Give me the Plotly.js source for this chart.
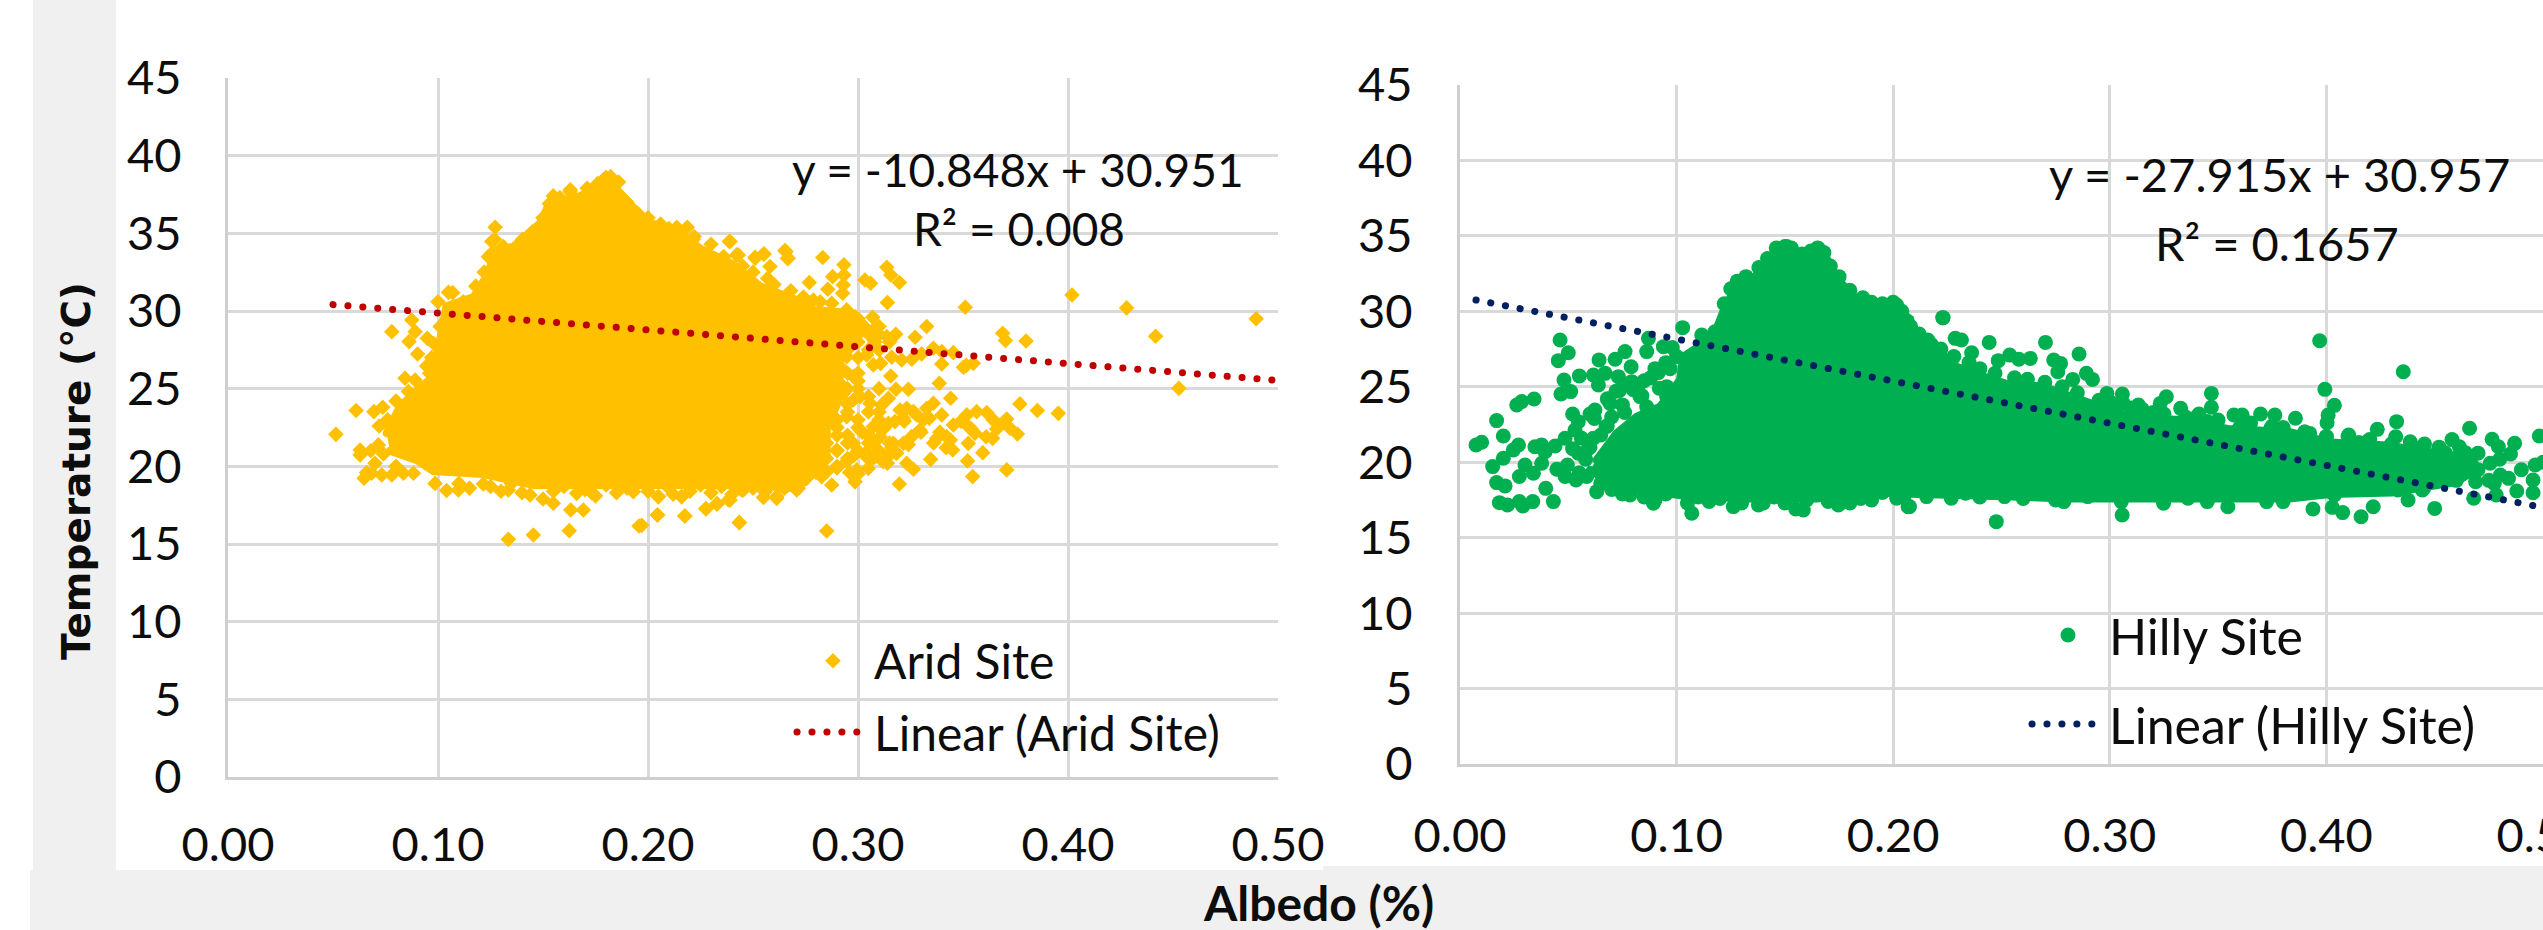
<!DOCTYPE html>
<html>
<head>
<meta charset="utf-8">
<script src="https://cdn.plot.ly/plotly-3.0.1.min.js"></script>
<style>
html,body{margin:0;padding:0;background:#fff;overflow:hidden}
#chart{width:2543px;height:930px}
.js-line{stroke-linecap:round}
</style>
</head>
<body>
<div id="chart"></div>
<script>
// Arid site: solid body of the cloud (outline)
const aridBodyX=[.0756,.0819,.0978,.1009,.104,.117,.123,.128,.136,.1486,.1533,.166,.182,.188,.1994,.2136,.225,.2406,.2533,.2708,.2788,.2978,.2995,.291,.2914,.2851,.285,.275,.265,.2565,.209,.177,.1454,.1216,.0978,.09,.0771];
const aridBodyY=[22.13,23.85,25.8,28.35,30.3,30.9,32.2,33.9,34.15,35.65,37.0,37.3,38.3,37.4,35.7,35.2,34.0,33.0,31.6,30.7,30.07,29.85,29.1,26.7,24.5,22.36,20.5,19.0,18.5,18.8,18.8,18.8,18.8,19.5,19.7,20.4,21.0];
// Arid site: individually readable points
const aridX=[.2387,.2422,.251,.2552,.2652,.2668,.2832,.2933,.2933,.2879,.2768,.2856,.293,.2927,.3033,.306,.3137,.3156,.3197,.314,.3511,.4019,.307,.3327,.3272,.3689,.3702,.38,.3137,.3073,.2994,.2946,.2875,.2787,.3041,.3073,.3108,.316,.3208,.3256,.3303,.3359,.3399,.3454,.3399,.3502,.3549,.3156,.3387,.324,.3441,.3771,.3854,.3954,.3181,.3145,.3113,.3057,.301,.2978,.293,.2914,.293,.2978,.2946,.2867,.32,.3232,.3264,.3216,.3176,.3145,.3327,.3359,.3399,.3311,.3295,.3255,.3375,.3422,.3454,.3518,.3565,.3613,.3644,.3668,.3708,.3724,.3759,.3525,.3557,.3525,.3641,.3594,.3451,.3522,.3346,.3546,.3708,.3264,.3232,.3197,.3137,.3184,.3216,.3168,.3073,.3105,.3049,.3041,.2994,.2986,.2946,.2875,.2827,.2851,.2835,.2899,.2978,.301,.2946,.3073,.2851,.2435,.2276,.2176,.2045,.2327,.2391,.2613,.2716,.2557,.2446,.216,.2049,.197,
.0514,.061,.0695,.0737,.0629,.0629,.0716,.0648,.0684,.0732,.078,.0835,.0883,.078,.0875,.0891,.0862,.0949,.0903,.0946,.0843,.0891,.0859,.107,.1121,.12,.1272,.1256,.1311,.1256,.1403,.1549,.1629,.166,.1787,.1822,.1843,.2137,.2187,.2216,.2391,.243,.251,.2552,.2657,.2664,.2581,.1335,.1454,.1625,.1957,.2175,.2045,.2435,.2276,.1632,.1692,.1549,.1732,.1438,.1335,.1216,.1097,.1041,.0986,.166,.193,.205,.216,.2383,.233,.2613,.2557,.2454,.2708,.4279,.4417,.4528,.4896,.3516];
const aridY=[34.47,33.61,33.4,33.68,33.89,33.4,33.44,32.97,32.32,32.21,31.83,31.4,31.68,31.14,32.0,31.79,32.82,32.32,31.83,30.54,30.24,31.03,29.6,29.0,28.31,28.57,28.1,28.07,28.35,28.78,29.0,30.07,30.5,30.7,27.17,26.53,26.63,27.02,26.85,26.89,27.24,27.6,27.39,27.32,26.59,26.38,26.63,25.82,25.35,24.96,24.38,24.02,23.59,23.41,24.96,24.38,23.95,24.06,24.49,25.78,26.21,25.35,24.7,24.27,27.06,26.96,23.63,23.74,23.52,23.09,22.88,22.77,23.74,24.06,23.31,22.99,22.34,21.91,21.8,21.91,22.66,23.31,23.52,23.46,22.99,22.66,23.05,22.45,22.08,22.56,22.13,21.48,21.8,20.88,21.05,20.35,20.45,19.34,19.77,19.81,20.2,18.86,20.56,20.84,21.48,21.48,21.48,21.91,19.87,20.62,19.77,19.0,20.3,18.8,19.34,19.66,20.73,21.05,21.48,22.34,23.2,22.56,15.84,16.37,17.28,16.8,16.87,17.58,17.83,18.05,18.59,18.37,18.48,18.05,18.05,16.2,
22.06,23.59,23.52,23.8,21.05,20.73,21.38,19.23,19.55,19.44,19.44,19.55,19.55,28.67,29.42,28.67,28.03,28.24,27.23,26.46,25.67,25.56,24.81,31.18,30.5,31.46,35.39,34.47,34.15,33.72,34.62,37.41,37.69,37.15,38.44,38.65,37.58,35.39,35.39,34.62,34.47,33.61,33.46,33.65,33.82,33.39,32.86,15.3,15.58,15.86,16.16,16.8,16.87,16.39,17.25,17.19,17.19,17.62,18.3,18.16,18.48,18.86,18.48,18.44,18.9,18.26,18.37,18.05,18.05,17.83,17.58,17.94,18.37,18.48,18.48,30.2,28.37,25.02,29.5,26.5];
// Arid site: the crowded fringe of the cloud
const aridFringeX=[.1,.105,.112,.118,.122,.124,.127,.131,.134,.14,.145,.15,.153,.158,.163,.171,.176,.18,.186,.19,.195,.2,.206,.21,.222,.23,.236,.245,.25,.257,.26,.268,.274,.282,
.11,.115,.125,.13,.135,.14,.15,.155,.16,.17,.175,.18,.185,.19,.195,.2,.21,.212,.22,.225,.23,.235,.24,.25,.255,.265,.275,.28,
.066,.07,.074,.072,.076,.08,.083,.088,.092,.096,.097,.098,.101,.068,.08,.085,
.285,.29,.295,.30,.282,.288,.292,.303,.31,.285,.295,.3,.305,.31,.318,.28,.29,.3,.308,.315,.285,.295,.305,.31,.28,.29,.3,.275,.285,.29,.28,.295,.30,.285,.29,.3,.28,.295,.30,.31,.29,.305,.285,.295,.285,.295,.305,.31,.29,.30,.31,.29,.30,.31,.29,.295,.305,.285,.295,.305,.315,.28,.29,.30,.31,.285,.295,.305,.28,.29,
.302,.306,.312,.316,.322,.328,.334,.339,.344,.349,.354,.361,.366,.304,.312,.318,.324,.33,.336,.342,.308,.296,.3,.29,.298,.306,.314];
const aridFringeY=[30.6,31.2,30.6,31.6,32.5,33.5,34.6,33,33.5,34.2,35.1,36,36.9,37.3,37.8,37.9,38.2,38.6,38.3,37,36.3,36,35.6,35.3,34.8,34.3,33.5,32.9,32.5,32.1,31.7,31.3,30.9,30.6,
18.9,18.6,18.7,18.4,18.9,18.3,17.9,18.4,18.7,18.5,18.1,18.8,18.3,18.6,18.9,18.4,18.6,18.2,18.4,18.8,18.3,18.7,18.2,18.6,18.0,18.6,19.2,19.6,
19.6,20.2,20.8,22.6,23,24.2,22.8,24.4,25,26,27,27.9,29,21,20,21,
29.5,29.5,29.5,29.5,29,29,29,29,29,28.5,28.5,28.5,28.5,28.5,28.5,28,28,28,28,28,27.5,27.5,27.5,27.5,27,27,27,26.5,26.5,26.5,26,26,26,25.5,25.5,25.5,25,25,25,25,24.5,24.5,24,24,23.5,23.5,23.5,23.5,23,23,23,22.5,22.5,22.5,22,22,22,21.5,21.5,21.5,21.5,21,21,21,21,20.5,20.5,20.5,20,20,
22.2,21.8,22.4,21.2,22.9,23.3,23.1,22.2,21.7,22.9,22.4,21.9,22.4,20.9,20.3,20.9,21.4,22.2,21.5,21.2,20.6,19.6,19.5,19.9,20.7,20.4,20.2];
const aridTrendX=[.05,.5];
const aridTrendY=[30.41,25.53];

// Hilly site: solid body of the cloud
const hillyBodyX=[.0631,.0723,.0816,.0924,.1016,.1031,.117,.1216,.1262,.137,.147,.1555,.1616,.1693,.1739,.1816,.1893,.2001,.2078,.2093,.2185,.2262,.2391,.2523,.2693,.2901,.3091,.3318,.3545,.3829,.4018,.4302,.44,.46,.47,.46,.4302,.4018,.3829,.3545,.3166,.2788,.2409,.222,.2107,.2001,.1647,.1339,.1031,.08,.0693,.06];
const hillyBodyY=[20.15,21.92,23.02,23.68,25.45,27.0,28.3,30.0,31.3,32.4,33.8,33.8,33.5,33.5,32.2,31.0,30.3,30.3,29.5,28.7,28.0,26.5,25.8,25.2,25.0,23.9,23.0,22.8,22.2,22.0,21.3,21.1,20.8,20.4,19.6,18.7,18.0,17.9,17.6,17.6,17.6,17.6,17.8,17.8,17.9,18.0,17.6,17.6,17.8,18.2,18.6,19.5];
// Hilly site: individually readable points
const hillyX=[.0074,.01,.0169,.02,.0262,.0285,.0342,.027,.0246,.02,.0151,.0169,.0208,.0182,.0219,.0274,.029,.0336,.0396,.0431,.0274,.03,.0339,.0377,.0393,.0346,.0377,.0439,.0485,.0531,.0546,.0462,.05,.0454,.048,.0466,.0511,.0551,.0616,.067,.0639,.0642,.0716,.0762,.079,.0731,.0793,.087,.0862,.0939,.1,.0916,.0954,.0954,.0736,.0693,.0623,.0831,.0862,.0674,.0616,.0546,.0593,.0447,.0496,.0485,.0536,.0631,.0585,.0785,.0893,.107,.1585,.2075,.1028,.1116,.1177,.1508,.1654,.2016,.2229,.1262,.1378,.1747,.2016,
.223,.2286,.2315,.2443,.2703,.2858,.2362,.2485,.2538,.258,.2633,.2741,.2773,.276,.2892,.292,.2829,.2987,.3058,.3062,.3132,.3261,.3233,.3327,.3469,.3469,.3412,.3573,.3611,.3696,.3762,.3857,.3743,.362,.3969,.3993,.4037,.4008,.4003,.4355,.4324,.4235,.4661,.3923,.4103,.3999,.4188,.432,.4387,.4453,.4548,.4614,.4642,.4765,.4794,.4869,.485,.4983,.4964,.4756,.4671,.4604,.4567,.4803,.4841,.4689,.4775,.4954,.4879,.4954,.4784,.468,.45,.4216,.416,.4075,.4027,.3938,.4037,.4377,.433,.4443,.3545,.345,.3361,.3248,.3053,.3057,.2971,.2898,.2788,.2684,.257,.2514,.2476,.2334,.2268,.2154,.2069,.38,.3724];
const hillyY=[21.14,21.32,22.76,21.74,23.79,24.02,24.19,21.14,20.81,20.26,19.71,18.65,18.43,17.32,17.17,17.39,17.1,17.39,18.27,17.39,19.05,19.82,19.27,19.93,20.7,21.03,21.14,21.08,21.59,22.14,22.69,28.1,27.26,26.73,25.45,24.52,24.68,25.72,25.78,25.89,25.12,26.78,26.82,27.33,26.33,25.67,25.34,28.21,27.33,27.66,27.0,25.94,25.01,24.35,24.75,23.9,23.46,24.35,23.68,22.36,21.59,20.59,20.92,19.53,19.82,19.05,18.82,18.05,19.05,17.83,17.28,16.62,16.84,17.06,28.92,28.43,28.65,34.29,34.18,30.42,29.58,17.06,17.17,17.17,17.61,
29.58,28.21,28.1,27.94,27.94,27.17,27.26,26.73,27.1,26.82,26.88,26.77,26.55,26.0,25.89,25.49,25.49,24.56,24.52,23.9,23.79,24.34,23.9,23.57,24.56,23.64,23.2,23.13,23.13,23.2,23.13,22.91,22.25,22.69,28.05,24.83,23.77,23.13,22.62,26.0,22.69,22.18,22.25,21.91,21.8,21.69,21.36,21.69,21.36,21.21,20.63,21.03,20.63,21.52,21.03,21.25,20.54,21.74,19.82,19.93,19.82,19.59,19.37,19.15,18.93,18.71,18.6,18.82,18.09,17.98,17.83,17.61,16.94,17.05,16.39,16.66,17.01,16.9,17.83,17.5,18.16,18.16,17.05,17.39,17.61,17.28,17.39,16.5,17.94,17.72,17.39,17.94,18.16,17.72,16.06,17.94,17.61,17.72,17.05,17.39,17.39];
// Hilly site: the crowded fringe of the cloud
const hillyFringeX=[.065,.07,.075,.085,.09,.095,.105,.11,.115,.12,.13,.14,.145,.15,.155,.16,.17,.18,.185,.19,.195,.205,.215,.24,.245,.26,.275,
.055,.06,.065,.07,.075,.08,.085,.09,.095,.098,.066,.073,.058,
.45,.455,.46,.465,.47,.475,.45,.46,.445,.452,.458,.47,.48,.49,.5,
.3,.31,.32,.34,.35,.365,.38,.39,.41,.42,.44,
.122,.125,.128,.132,.138,.142,.146,.15,.153,.158,.162,.165,.168,.171,.175,.18,.186,.19,.195,.2,.204,.208,.212,.216,.222,.228,.235,.24,.247,.256,.262,.27,.278,.285,.295,.302,.315,.325,.335,.345,.36,.375,.39,.4,.415,.43,.44,
.052,.056,.062,.068,.072,.078,.082,.088,.068,.076,.084,.092,.097,.06,.052];
const hillyFringeY=[18.6,18.2,17.9,17.7,17.5,17.9,17.3,17.7,17.4,17.6,17.3,17.3,17.7,17.3,16.9,17.5,17.4,17.3,17.6,17.5,18,17.7,18,17.7,18,17.6,17.5,
19.3,21,21.8,23,23.8,24.8,25.4,26.2,26.6,27.6,19.5,19.4,20.2,
20.5,19.8,20.3,20,19.5,18.8,19,18.8,18.3,21,21.5,20.6,20.2,19.5,20,
24,23.6,23.3,23,22.8,22.6,22.3,22,21.7,21.5,21,
30.5,31.5,32,32.3,32.9,33.5,34.2,34.3,34.2,33.8,34,34.2,33.9,33,32.3,31.4,30.9,30.6,30.5,30.6,30,29,28.5,28.1,27.5,27,26.6,26.2,25.9,25.6,25.5,25.3,25,24.6,24.1,23.8,23.5,23.2,23,22.7,22.3,22.4,22,21.7,21.3,21.2,20.9,
20.9,21.6,22.9,24.2,24.7,25.2,24.9,25.6,22.4,23.3,24.4,24.9,26.2,23.2,23.2];
const hillyTrendX=[.0074,.5];
const hillyTrendY=[30.75,17.0];

const yTicks=[0,5,10,15,20,25,30,35,40,45];
const xTicks=[0,.1,.2,.3,.4,.5];

const W=2543,H=930;
const GOLD='#FFC000',GREEN='#00B050',RED='#C00000',NAVY='#002060',GRID='#d9d9d9',BAND='#f0f0f0';
const FONT='Lato, Carlito, sans-serif';
const TICK=47;
const px=v=>v/W, py=v=>1-v/H;

function axis(domain,extra){
  return Object.assign({domain:domain,showgrid:true,gridcolor:GRID,gridwidth:3,zeroline:false,
    showline:true,linecolor:'#cfcfcf',linewidth:3,ticks:'',tickfont:{family:FONT,size:TICK,color:'#0d0d0d'},automargin:false},extra);
}
const dash='0.1px,14.85px';
const data=[
 {type:'scatter',mode:'lines',x:aridBodyX,y:aridBodyY,fill:'toself',fillcolor:GOLD,line:{color:GOLD,width:8},showlegend:false,hoverinfo:'skip',xaxis:'x',yaxis:'y'},
 {type:'scatter',mode:'markers',name:'Arid Site',x:aridX.concat(aridFringeX),y:aridY.concat(aridFringeY),marker:{symbol:'diamond',size:12,color:GOLD},xaxis:'x',yaxis:'y',legend:'legend',legendgroup:'a1'},
 {type:'scatter',mode:'lines',name:'Linear (Arid Site)',x:aridTrendX,y:aridTrendY,line:{color:RED,width:7,dash:dash},xaxis:'x',yaxis:'y',legend:'legend',legendgroup:'a2'},
 {type:'scatter',mode:'lines',x:hillyBodyX,y:hillyBodyY,fill:'toself',fillcolor:GREEN,line:{color:GREEN,width:8},showlegend:false,hoverinfo:'skip',xaxis:'x2',yaxis:'y2'},
 {type:'scatter',mode:'markers',name:'Hilly Site',x:hillyX.concat(hillyFringeX),y:hillyY.concat(hillyFringeY),marker:{symbol:'circle',size:15,color:GREEN},xaxis:'x2',yaxis:'y2',legend:'legend2',legendgroup:'h1'},
 {type:'scatter',mode:'lines',name:'Linear (Hilly Site)',x:hillyTrendX,y:hillyTrendY,line:{color:NAVY,width:7,dash:dash},xaxis:'x2',yaxis:'y2',legend:'legend2',legendgroup:'h2'}
];
function note(text,x,y,opts){
  return Object.assign({text:text,xref:'paper',yref:'paper',x:px(x),y:py(y),xanchor:'center',yanchor:'middle',showarrow:false,font:{family:FONT,size:46,color:'#0d0d0d'}},opts||{});
}
const legendBase={bgcolor:'rgba(0,0,0,0)',borderwidth:0,itemwidth:72,traceorder:'grouped',xanchor:'left',yanchor:'top',itemclick:false,itemdoubleclick:false};
const rightText={family:FONT,size:47,color:'#0d0d0d'};
const layout={
 width:W,height:H,margin:{l:0,r:0,t:0,b:0},paper_bgcolor:'#fff',plot_bgcolor:'#fff',showlegend:true,hovermode:'closest',
 xaxis:axis([px(228),px(1278)],{anchor:'y',range:[0,.5],tickvals:xTicks,tickformat:'.2f',ticklabelstandoff:25,ticklabeloverflow:'allow'}),
 yaxis:axis([py(777),py(78)],{anchor:'x',range:[0,45],tickvals:yTicks,ticklabelstandoff:34}),
 xaxis2:axis([px(1460),1],{anchor:'y2',range:[0,.5],tickvals:xTicks,tickformat:'.2f',ticklabelstandoff:29,ticklabeloverflow:'allow'}),
 yaxis2:axis([py(764),py(85)],{anchor:'x2',range:[0,45],tickvals:yTicks,ticklabelstandoff:35}),
 legend:Object.assign({},legendBase,{x:px(792),y:py(623),tracegroupgap:6,font:{family:FONT,size:48,color:'#0d0d0d'}}),
 legend2:Object.assign({},legendBase,{x:px(2027),y:py(596),tracegroupgap:21,font:{family:FONT,size:50,color:'#0d0d0d'}}),
 shapes:[
  {type:'rect',xref:'paper',yref:'paper',layer:'below',x0:px(33),x1:px(116),y0:py(870),y1:1,fillcolor:BAND,line:{width:0}},
  {type:'rect',xref:'paper',yref:'paper',layer:'below',x0:px(30),x1:px(1323),y0:0,y1:py(870),fillcolor:BAND,line:{width:0}},
  {type:'rect',xref:'paper',yref:'paper',layer:'below',x0:px(1323),x1:1,y0:0,y1:py(866),fillcolor:BAND,line:{width:0}}
 ],
 annotations:[
  note('y = -10.848x + 30.951',1018,169),
  note('R² = 0.008',1019,229),
  note('y = -27.915x + 30.957',2279,174,{font:rightText}),
  note('R² = 0.1657',2277,243,{font:rightText}),
  note('Temperature (°C)',76,471,{textangle:-90,font:{family:'"DejaVu Sans", sans-serif',size:39,color:'#0d0d0d',weight:700}}),
  note('Albedo (%)',1318,902,{font:{family:FONT,size:48,color:'#0d0d0d',weight:700}})
 ]
};
Plotly.newPlot('chart',data,layout,{displayModeBar:false,staticPlot:false,responsive:false});
</script>
</body>
</html>
